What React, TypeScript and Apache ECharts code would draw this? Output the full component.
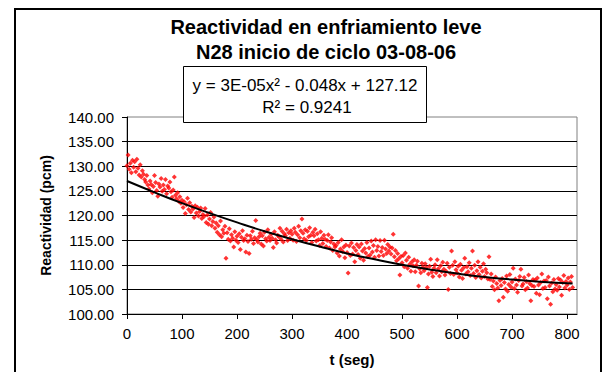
import React, { useEffect, useRef } from "react";
import * as echarts from "echarts";

const TITLE_LINES = ["Reactividad en enfriamiento leve", "N28 inicio de ciclo 03-08-06"];
const EQUATION_LINES = ["y = 3E-05x² - 0.048x + 127.12", "R² = 0.9241"];
const X_NAME = "t (seg)";
const Y_NAME = "Reactividad (pcm)";

// sampling interval of the measurement (s)
const SAMPLE_STEP = 2;

// Reactivity readings (pcm), one every SAMPLE_STEP seconds starting at t = 0
const reactivity: number[] = [
  130.1, 132.3, 129.4, 130.6, 128.7, 131.2, 129.8, 130.9, 128.9, 131.4,
  129.6, 128.2, 130.3, 127.8, 129.1, 128.4, 127.3, 126.8, 128.1, 126.2,
  125.4, 127.0, 126.3, 124.6, 125.9, 128.1, 126.7, 125.1, 123.9, 126.4,
  125.8, 127.5, 124.9, 126.2, 125.3, 127.3, 124.4, 126.0, 125.6, 126.8,
  124.8, 123.7, 125.2, 127.8, 124.1, 123.4, 124.6, 122.9, 123.8, 122.5,
  123.1, 121.6, 122.8, 120.4, 122.2, 123.5, 121.2, 122.6, 120.7, 121.9,
  121.3, 119.6, 122.0, 120.5, 121.7, 119.9, 120.8, 121.5, 119.4, 120.2,
  119.8, 121.4, 118.6, 120.1, 118.2, 119.3, 120.6, 117.9, 118.8, 119.7,
  117.4, 118.5, 116.6, 117.9, 116.1, 118.9, 115.7, 117.1, 116.4, 117.8,
  111.3, 116.5, 115.2, 117.3, 114.8, 116.1, 115.4, 113.6, 116.7, 115.0,
  115.8, 114.5, 116.3, 113.1, 115.6, 116.9, 114.9, 115.3, 112.6, 116.0,
  114.7, 112.3, 115.9, 115.2, 116.8, 114.3, 115.5, 119.0, 115.1, 114.6,
  115.7, 116.4, 114.2, 115.9, 113.8, 116.6, 115.3, 114.8, 117.1, 115.6,
  114.9, 116.2, 115.4, 113.5, 116.7, 115.1, 114.4, 116.0, 115.7, 117.4,
  115.2, 116.8, 114.6, 116.3, 115.9, 117.2, 114.9, 116.5, 115.4, 116.9,
  116.2, 115.0, 117.4, 116.6, 114.7, 116.1, 117.8, 115.5, 116.9, 119.3,
  116.4, 115.3, 117.1, 114.9, 116.8, 115.7, 117.5, 116.0, 114.5, 116.6,
  115.9, 117.2, 114.8, 116.3, 115.1, 113.9, 116.7, 115.4, 114.3, 116.0,
  115.2, 113.7, 114.9, 116.1, 113.4, 114.6, 115.5, 112.9, 114.2, 113.6,
  113.9, 112.4, 114.5, 111.8, 113.2, 115.1, 112.7, 113.6, 111.4, 114.0,
  112.5, 108.3, 113.8, 111.9, 114.4, 112.2, 113.5, 110.6, 112.9, 114.1,
  112.1, 113.6, 111.3, 114.2, 112.8, 110.9, 113.3, 112.4, 114.5, 111.7,
  113.4, 112.0, 114.8, 112.6, 113.9, 111.5, 115.1, 112.9, 113.7, 111.8,
  114.9, 112.7, 113.5, 111.9, 115.0, 113.2, 112.3, 114.1, 112.8, 113.6,
  112.2, 113.4, 116.2, 111.6, 112.9, 110.8, 112.3, 111.2, 107.9, 111.7,
  110.4, 111.9, 109.6, 112.4, 110.9, 109.3, 111.5, 110.1, 108.7, 110.6,
  109.8, 111.0, 108.6, 109.9, 110.7, 105.7, 109.2, 108.4, 110.3, 109.5,
  108.8, 110.2, 109.4, 105.4, 108.1, 109.7, 111.1, 108.5, 107.6, 109.3,
  110.0, 108.4, 111.0, 109.2, 107.7, 109.8, 108.6, 110.5, 109.1, 107.9,
  108.7, 110.3, 105.0, 109.5, 108.2, 112.8, 109.9, 108.0, 110.6, 109.0,
  108.3, 109.7, 107.5, 110.1, 108.9, 107.2, 109.4, 111.3, 108.1, 109.6,
  108.6, 110.4, 107.8, 109.3, 112.8, 108.2, 109.9, 107.4, 108.8, 110.6,
  108.0, 109.5, 107.3, 108.7, 110.2, 107.6, 109.1, 108.4, 107.1, 111.6,
  107.0, 108.1, 105.6, 106.7, 104.9, 107.5, 106.2, 105.3, 102.7, 106.8,
  105.8, 107.2, 103.4, 106.4, 105.1, 107.7, 104.6, 106.0, 108.0, 105.5,
  106.5, 109.3, 105.2, 107.1, 105.9, 104.4, 106.8, 107.6, 109.1, 105.7,
  106.1, 107.4, 104.9, 106.6, 105.3, 107.9, 106.2, 102.7, 105.8, 107.0,
  105.6, 106.9, 104.2, 107.3, 105.9, 103.9, 106.4, 108.1, 105.2, 106.7,
  105.4, 106.8, 103.1, 107.5, 105.7, 102.0, 106.3, 104.5, 107.0, 105.1,
  106.0, 104.8, 107.2, 105.5, 106.9, 103.8, 106.4, 107.8, 105.3, 106.6,
  105.9, 107.3, 105.0, 106.5, 107.6, 105.4,
];

// Polynomial trend line
const trendT: number[] = [0, 50, 100, 150, 200, 250, 300, 350, 400, 450, 500, 550, 600, 650, 700, 750, 810];
const trendY: number[] = [127.0, 124.7, 122.5, 120.5, 118.6, 116.8, 115.2, 113.7, 112.3, 111.1, 110.0, 109.05, 108.2, 107.5, 107.0, 106.55, 106.2];

const X_MIN = 0;
const X_MAX = 818;
const X_INTERVAL = 100;
const Y_MIN = 100;
const Y_MAX = 140;
const Y_INTERVAL = 5;

const FONT = "'Liberation Sans', Arial, sans-serif";

export default function App() {
  const ref = useRef<HTMLDivElement>(null);

  useEffect(() => {
    if (!ref.current) return;
    const chart = echarts.init(ref.current, null, { renderer: "svg" });
    const scatterData = reactivity.map((v, i) => [i * SAMPLE_STEP, v]);
    const trendData = trendT.map((t, i) => [t, trendY[i]]);

    chart.setOption({
      animation: false,
      backgroundColor: "#ffffff",
      textStyle: { fontFamily: FONT },
      grid: {
        left: 127,
        right: 28,
        top: 117,
        bottom: 55,
        show: true,
        backgroundColor: "#ffffff",
        borderColor: "#808080",
        borderWidth: 1,
      },
      xAxis: {
        type: "value",
        min: X_MIN,
        max: X_MAX,
        interval: X_INTERVAL,
        name: X_NAME,
        nameLocation: "middle",
        nameGap: 38,
        nameTextStyle: { fontFamily: FONT, fontSize: 15, fontWeight: "bold", color: "#000" },
        axisLine: { show: true, lineStyle: { color: "#000", width: 1 } },
        axisTick: { show: true, inside: false, length: 5, lineStyle: { color: "#000" } },
        axisLabel: { fontFamily: FONT, fontSize: 15, color: "#000", margin: 12, showMaxLabel: false },
        splitLine: { show: false },
      },
      yAxis: {
        type: "value",
        min: Y_MIN,
        max: Y_MAX,
        interval: Y_INTERVAL,
        name: Y_NAME,
        nameLocation: "middle",
        nameGap: 74,
        nameTextStyle: { fontFamily: FONT, fontSize: 14, fontWeight: "bold", color: "#000" },
        axisLine: { show: true, lineStyle: { color: "#000", width: 1 } },
        axisTick: { show: true, inside: false, length: 5, lineStyle: { color: "#000" } },
        axisLabel: {
          fontFamily: FONT,
          fontSize: 15,
          color: "#000",
          margin: 13,
          formatter: (v: number) => v.toFixed(2),
        },
        splitLine: { show: true, showMinLine: false, showMaxLine: false, lineStyle: { color: "#000", width: 1 } },
      },
      series: [
        {
          type: "scatter",
          data: scatterData,
          symbol: "diamond",
          symbolSize: 5,
          itemStyle: { color: "#ff0000" },
          z: 2,
        },
        {
          type: "line",
          data: trendData,
          smooth: true,
          showSymbol: false,
          symbol: "none",
          lineStyle: { color: "#000", width: 2 },
          z: 3,
        },
      ],
      graphic: [
        {
          type: "rect",
          shape: { x: 15, y: 9, width: 586, height: 400 },
          style: { fill: "none", stroke: "#000", lineWidth: 2 },
          silent: true,
          z: 0,
        },
        {
          type: "text",
          x: 326,
          y: 27,
          style: {
            text: TITLE_LINES[0],
            font: `bold 20px ${FONT}`,
            fill: "#000",
            align: "center",
            verticalAlign: "middle",
          },
          z: 10,
        },
        {
          type: "text",
          x: 326,
          y: 52,
          style: {
            text: TITLE_LINES[1],
            font: `bold 20px ${FONT}`,
            fill: "#000",
            align: "center",
            verticalAlign: "middle",
          },
          z: 10,
        },
        {
          type: "rect",
          shape: { x: 183.5, y: 66.5, width: 243, height: 56 },
          style: { fill: "#ffffff", stroke: "#000", lineWidth: 1 },
          z: 100,
        },
        {
          type: "text",
          x: 305,
          y: 85,
          style: {
            text: EQUATION_LINES[0],
            font: `17px ${FONT}`,
            fill: "#000",
            align: "center",
            verticalAlign: "middle",
          },
          z: 101,
        },
        {
          type: "text",
          x: 307,
          y: 107,
          style: {
            text: EQUATION_LINES[1],
            font: `17px ${FONT}`,
            fill: "#000",
            align: "center",
            verticalAlign: "middle",
          },
          z: 101,
        },
      ],
    });

    return () => chart.dispose();
  }, []);

  return (
    <div
      ref={ref}
      style={{ position: "fixed", left: 0, top: 0, width: 605, height: 372, background: "#fff" }}
    />
  );
}
